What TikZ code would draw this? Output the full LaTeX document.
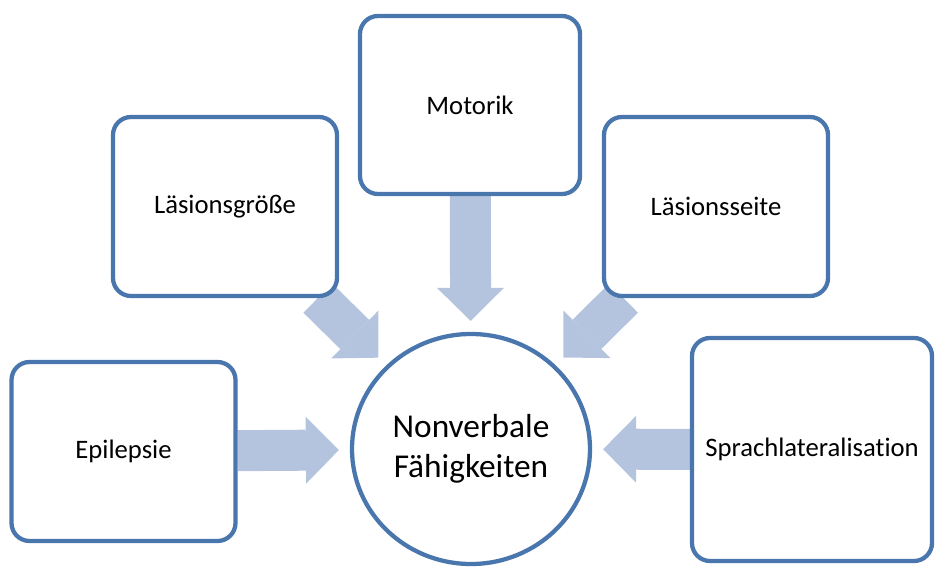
\documentclass[tikz,border=0pt]{standalone}
\usepackage{fontspec}
\setmainfont[Ligatures=NoCommon]{Carlito}
\usepackage{xcolor}
\usepackage{tikz}
\usetikzlibrary{arrows.meta,backgrounds,shapes.geometric}
\definecolor{boxline}{HTML}{4A76AE}
\definecolor{arrowfill}{HTML}{B4C3DE}

\begin{document}
\begin{tikzpicture}[x=0.75pt,y=-0.75pt,
    factor/.style={rounded corners=13.5pt,draw=boxline,line width=3.2pt,fill=white,
      minimum width=168pt,minimum height=134.25pt,align=center,
      font=\fontsize{20}{24}\selectfont},
    fatarrow/.style={draw=arrowfill,line width=30.75pt,shorten >=8.25pt,
      -{Triangle[width=50.25pt,length=24.75pt,line width=0pt]}}]
  \useasboundingbox (0,0) rectangle (935,567);
  % zentrale Ellipse
  \node[ellipse,draw=boxline,line width=3.2pt,fill=white,minimum width=178.5pt,
    minimum height=172.5pt,align=center,font=\fontsize{25}{30}\selectfont]
    (nv) at (471,449) {Nonverbale\\Fähigkeiten};
  % Einflussfaktoren
  \node[factor,minimum width=165pt,minimum height=133.5pt] (motorik) at (470,105) {Motorik};
  \node[factor] (groesse) at (225,206.5) {Läsionsgröße};
  \node[factor] (seite) at (716,206.5) {Läsionsseite};
  \node[factor] (epilepsie) at (123.5,451.5) {Epilepsie};
  \node[factor,minimum width=180pt,minimum height=167.25pt] (sprache) at (812,449.5) {Sprachlateralisation};
  \begin{scope}[on background layer]
    \draw[fatarrow] (motorik) -- (nv);
    \draw[fatarrow] (groesse) -- (nv);
    \draw[fatarrow] (seite) -- (nv);
    \draw[fatarrow] (epilepsie) -- (nv);
    \draw[fatarrow] (sprache) -- (nv);
  \end{scope}
\end{tikzpicture}
\end{document}
